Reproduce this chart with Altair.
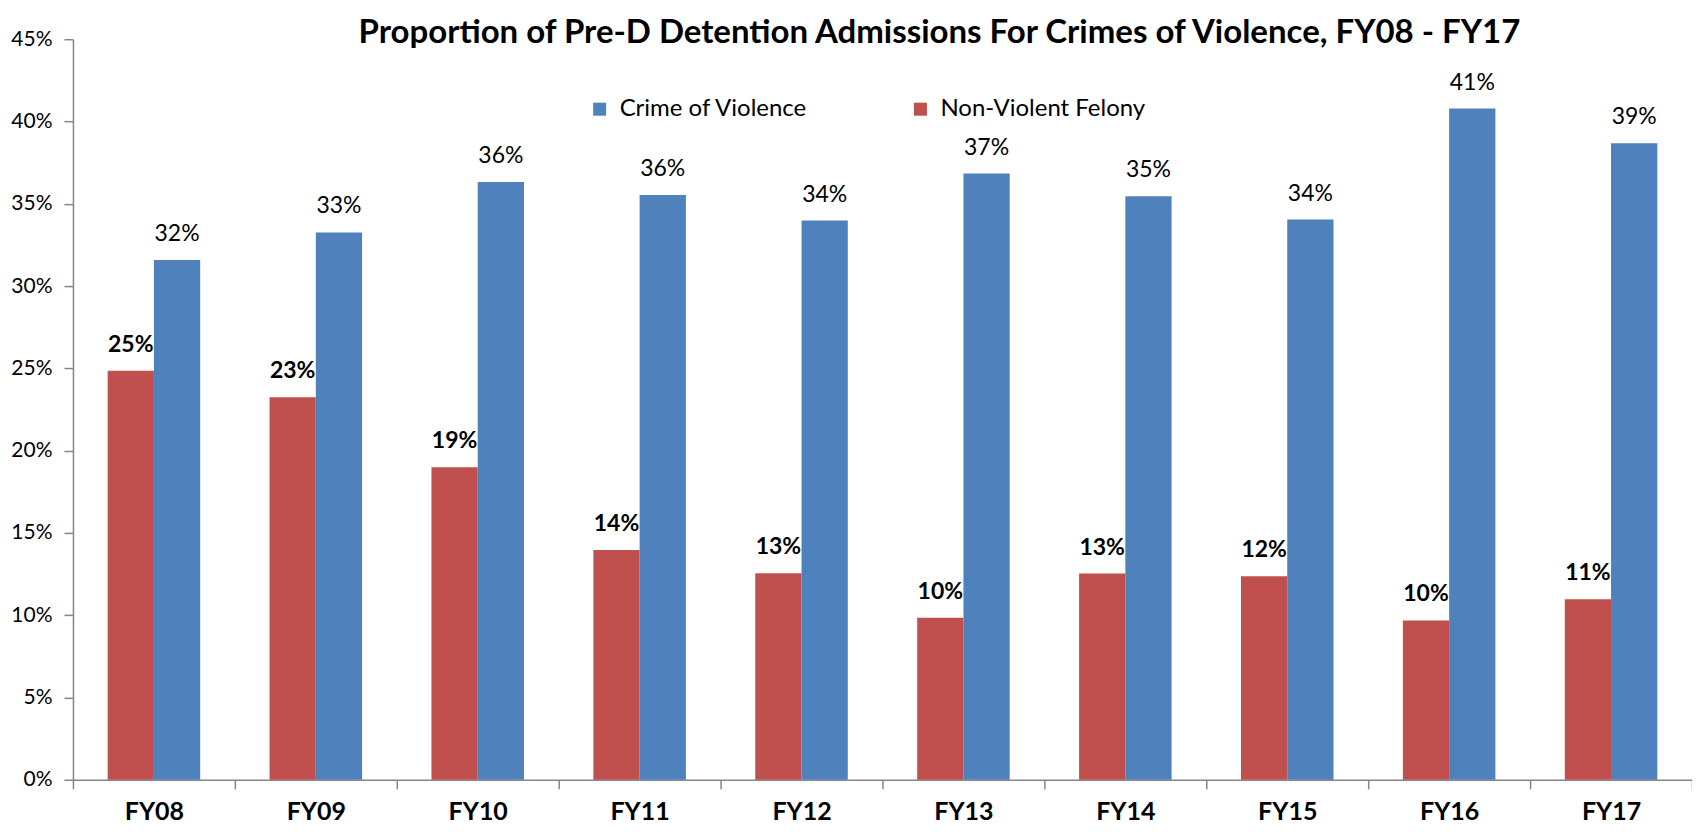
import altair as alt
import pandas as pd

years = ["FY08", "FY09", "FY10", "FY11", "FY12", "FY13", "FY14", "FY15", "FY16", "FY17"]
violent = [0.3158, 0.3326, 0.3633, 0.3553, 0.3398, 0.3684, 0.3546, 0.3404, 0.4079, 0.3868]
nonviolent = [0.2486, 0.2324, 0.1899, 0.1397, 0.1255, 0.0984, 0.1253, 0.1237, 0.0968, 0.1097]
series = ["Crime of Violence", "Non-Violent Felony"]
colors = ["#4F81BD", "#C0504D"]
y_ticks = [0, 0.05, 0.10, 0.15, 0.20, 0.25, 0.30, 0.35, 0.40, 0.45]
title = "Proportion of Pre-D Detention Admissions For Crimes of Violence, FY08 - FY17"

rows = []
for yr, v, n in zip(years, violent, nonviolent):
    rows.append({"year": yr, "series": series[0], "value": v})
    rows.append({"year": yr, "series": series[1], "value": n})
df = pd.DataFrame(rows)

FONT = "Lato"
AXIS_GREY = "#868686"

x = alt.X(
    "year:N", sort=years,
    scale=alt.Scale(paddingInner=0, paddingOuter=0),
    axis=alt.Axis(title=None, labelAngle=0, labelFont=FONT, labelFontSize=25,
                  labelFontWeight="bold", labelColor="black", tickBand="extent",
                  tickSize=9, tickColor=AXIS_GREY, tickWidth=1.5,
                  domainColor=AXIS_GREY, domainWidth=1.5, labelPadding=11),
)
xo = alt.XOffset("series:N", sort=[series[1], series[0]],
                 scale=alt.Scale(paddingOuter=0.75, paddingInner=0))
y = alt.Y(
    "value:Q",
    scale=alt.Scale(domain=[0, 0.45], nice=False),
    axis=alt.Axis(title=None, format=".0%", values=y_ticks, grid=False,
                  labelFont=FONT, labelFontSize=21, labelColor="black",
                  tickSize=9, tickColor=AXIS_GREY, tickWidth=1.5,
                  domainColor=AXIS_GREY, domainWidth=1.5, labelPadding=12),
)

base = alt.Chart(df)

bars = base.mark_bar().encode(
    x=x, xOffset=xo, y=y,
    color=alt.Color(
        "series:N",
        scale=alt.Scale(domain=series, range=colors),
        legend=alt.Legend(title=None, orient="none", legendX=515, legendY=58,
                          direction="horizontal", symbolType="square",
                          symbolSize=169, symbolStrokeWidth=0,
                          labelFont=FONT, labelFontSize=24, labelColor="black",
                          labelLimit=400, columnPadding=100, labelOffset=8,
                          padding=0),
    ),
)

lab_v = base.transform_filter(alt.datum.series == series[0]).mark_text(
    font=FONT, fontSize=23, dy=-19, baseline="alphabetic", color="black"
).encode(x=x, xOffset=xo, y=y, text=alt.Text("value:Q", format=".0%"))

lab_n = base.transform_filter(alt.datum.series == series[1]).mark_text(
    font=FONT, fontSize=23, fontWeight="bold", dy=-19, baseline="alphabetic", color="black"
).encode(x=x, xOffset=xo, y=y, text=alt.Text("value:Q", format=".0%"))

chart = alt.layer(bars, lab_v, lab_n).properties(
    width=1620, height=741,
    title=alt.TitleParams(text=title, font=FONT, fontSize=33, fontWeight="bold",
                          anchor="middle", dx=57, dy=30, color="black", offset=8),
    autosize=alt.AutoSizeParams(type="none"),
    padding={"left": 65, "top": 31, "right": 0, "bottom": 45},
).configure_view(strokeWidth=0)

chart.save("out.html", embed_options={"renderer": "svg", "actions": False})
